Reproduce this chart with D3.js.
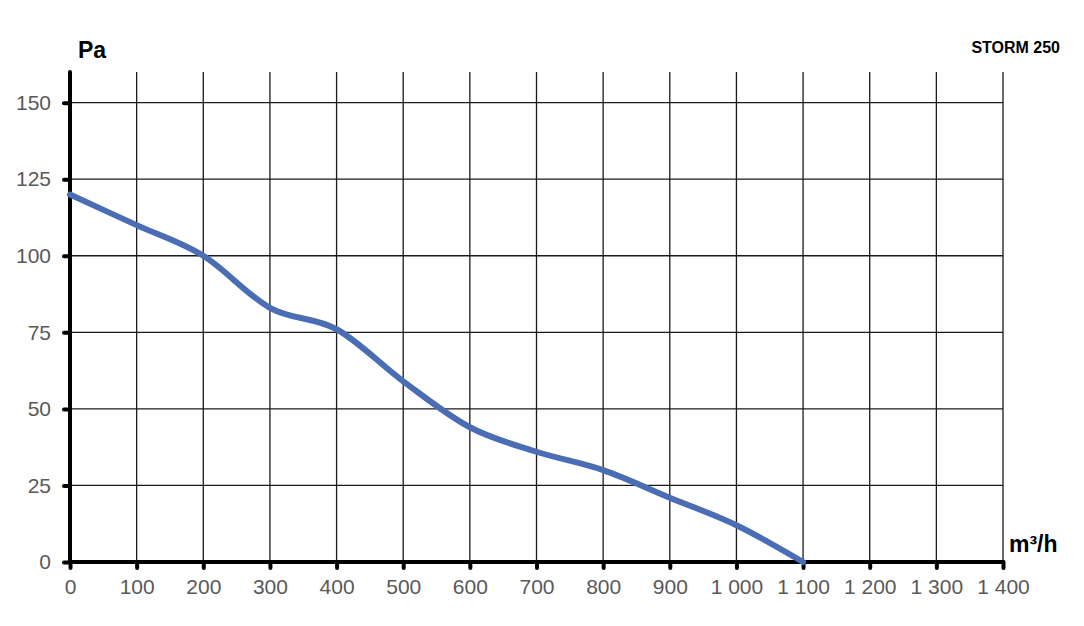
<!DOCTYPE html>
<html>
<head>
<meta charset="utf-8">
<script src="https://cdn.jsdelivr.net/npm/d3@7.9.0/dist/d3.min.js"></script>
<style>
  body { margin: 0; background: #fff; }
  svg { display: block; font-family: "Liberation Sans", Arial, sans-serif; }
</style>
</head>
<body>
<div id="plot-container"></div>
<script>
// airflow (m³/h) and pressure (Pa)
const flow = [0, 100, 200, 300, 400, 500, 600, 700, 800, 900, 1000, 1100];
const pressure = [120, 110, 100, 83, 76, 59, 44, 36, 30, 21, 12, 0];

const xTicks = [0, 100, 200, 300, 400, 500, 600, 700, 800, 900, 1000, 1100, 1200, 1300, 1400];
const xTickLabels = ["0", "100", "200", "300", "400", "500", "600", "700", "800", "900", "1 000", "1 100", "1 200", "1 300", "1 400"];
const yTicks = [0, 25, 50, 75, 100, 125, 150];

const title = "STORM 250";
const yUnit = "Pa";
const xUnit = "m³/h";

function renderPlot() {
    let width = 1084;
    let height = 626;

    const svg = d3.select('#plot-container')
        .append('svg')
        .attr('width', width)
        .attr('height', height);

    const usableArea = { left: 70, right: 1003, top: 72, bottom: 562 };

    const xScale = d3.scaleLinear()
        .domain([0, 1400])
        .range([usableArea.left, usableArea.right]);

    const yScale = d3.scaleLinear()
        .domain([0, 160])
        .range([usableArea.bottom, usableArea.top]);

    // vertical gridlines (full height)
    svg.append('g')
        .selectAll('line')
        .data(xTicks.filter(d => d > 0))
        .join('line')
        .attr('x1', d => xScale(d))
        .attr('x2', d => xScale(d))
        .attr('y1', yScale(160))
        .attr('y2', yScale(0))
        .attr('stroke', '#1a1a1a')
        .attr('stroke-width', 1.3);

    // horizontal gridlines
    svg.append('g')
        .selectAll('line')
        .data(yTicks.filter(d => d > 0))
        .join('line')
        .attr('x1', xScale(0))
        .attr('x2', xScale(1400))
        .attr('y1', d => yScale(d))
        .attr('y2', d => yScale(d))
        .attr('stroke', '#1a1a1a')
        .attr('stroke-width', 1.3);

    // axes
    const xAxis = svg.append('g')
        .attr('transform', `translate(0, ${usableArea.bottom})`)
        .call(d3.axisBottom(xScale)
            .tickValues(xTicks)
            .tickFormat((d, i) => xTickLabels[i])
            .tickSize(6)
            .tickPadding(11));

    const yAxis = svg.append('g')
        .attr('transform', `translate(${usableArea.left}, 0)`)
        .call(d3.axisLeft(yScale)
            .tickValues(yTicks)
            .tickSize(6)
            .tickPadding(13));

    [xAxis, yAxis].forEach(ax => {
        ax.select('.domain').remove();
        ax.selectAll('.tick line')
            .attr('stroke', '#000')
            .attr('stroke-width', 4)
            .attr('stroke-linecap', 'round');
        ax.selectAll('.tick text')
            .attr('fill', '#595959')
            .style('font-size', '21px')
            .style('font-family', '"Liberation Sans", Arial, sans-serif');
    });

    // axis lines
    svg.append('line')
        .attr('x1', xScale(0)).attr('x2', xScale(0))
        .attr('y1', yScale(160)).attr('y2', yScale(0))
        .attr('stroke', '#000').attr('stroke-width', 4)
        .attr('stroke-linecap', 'round');
    svg.append('line')
        .attr('x1', xScale(0)).attr('x2', xScale(1400))
        .attr('y1', yScale(0)).attr('y2', yScale(0))
        .attr('stroke', '#000').attr('stroke-width', 4)
        .attr('stroke-linecap', 'round');

    // curve
    const line = d3.line()
        .x((d, i) => xScale(d))
        .y((d, i) => yScale(pressure[i]))
        .curve(d3.curveMonotoneX);

    svg.append('path')
        .datum(flow)
        .attr('fill', 'none')
        .attr('stroke', '#4a6db3')
        .attr('stroke-width', 6)
        .attr('stroke-linecap', 'round')
        .attr('d', line);

    // labels
    svg.append('text')
        .attr('x', 78).attr('y', 58)
        .attr('font-size', 23).attr('font-weight', 'bold')
        .text(yUnit);

    svg.append('text')
        .attr('x', 1060).attr('y', 53)
        .attr('text-anchor', 'end')
        .attr('font-size', 16).attr('font-weight', 'bold')
        .text(title);

    svg.append('text')
        .attr('x', 1009).attr('y', 552)
        .attr('font-size', 23).attr('font-weight', 'bold')
        .text(xUnit);
}

renderPlot();
</script>
</body>
</html>
